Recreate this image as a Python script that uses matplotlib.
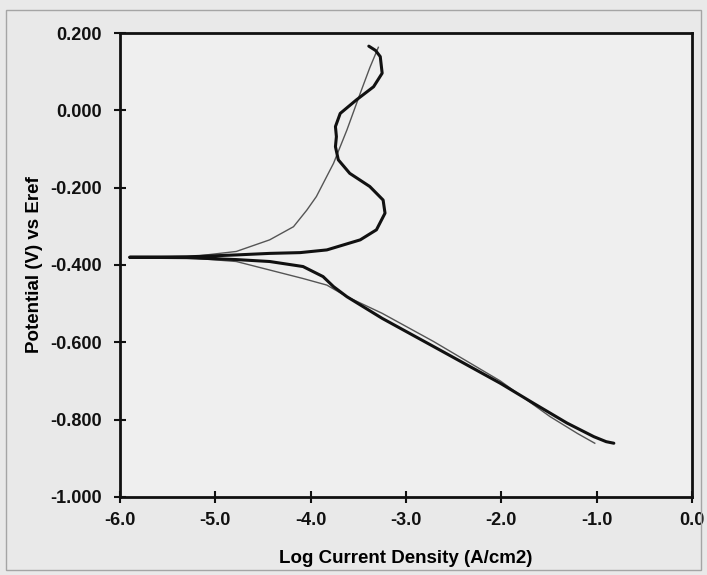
import matplotlib
matplotlib.use("Agg")
import matplotlib.pyplot as plt
from matplotlib.ticker import FormatStrFormatter
from matplotlib.patches import Rectangle

# Thin grey curve (log i, E), from cathodic end through Ecorr to anodic end
thin_x = [-1.02, -1.20, -1.49, -2.01, -2.71, -3.25, -3.62, -3.83, -4.08, -4.43, -4.78, -5.20, -5.90,
          -5.20, -4.78, -4.43, -4.18, -4.04, -3.94, -3.76, -3.62, -3.48, -3.38, -3.29]
thin_y = [-0.861, -0.836, -0.792, -0.700, -0.598, -0.525, -0.482, -0.452, -0.435, -0.413, -0.391, -0.383, -0.380,
          -0.377, -0.365, -0.335, -0.301, -0.258, -0.223, -0.137, -0.051, 0.044, 0.110, 0.163]

# Thick black curve
thick_x = [-0.82, -0.90, -1.03, -1.31, -1.66, -2.01, -2.71, -3.25, -3.62, -3.76, -3.87, -4.08, -4.43, -4.78, -5.30, -5.90,
           -5.30, -4.78, -4.43, -4.11, -3.83, -3.48, -3.31, -3.22, -3.24, -3.38, -3.59, -3.71, -3.74, -3.73, -3.74,
           -3.69, -3.52, -3.34, -3.25, -3.27, -3.32, -3.39]
thick_y = [-0.861, -0.857, -0.844, -0.809, -0.758, -0.706, -0.611, -0.538, -0.482, -0.456, -0.430, -0.404, -0.391, -0.386, -0.381, -0.380,
           -0.379, -0.374, -0.370, -0.368, -0.361, -0.335, -0.309, -0.266, -0.232, -0.197, -0.163, -0.128, -0.094, -0.068, -0.042,
           -0.008, 0.027, 0.061, 0.096, 0.139, 0.155, 0.166]

x_ticks = [-6.0, -5.0, -4.0, -3.0, -2.0, -1.0, 0.0]
y_ticks = [0.2, 0.0, -0.2, -0.4, -0.6, -0.8, -1.0]

plt.rcParams['font.family'] = ['Liberation Sans', 'DejaVu Sans']

fig = plt.figure(figsize=(7.07, 5.75), dpi=100, facecolor='#e9e9e9')
fig.patches.append(Rectangle((0.008, 0.008), 0.984, 0.975, transform=fig.transFigure,
                             fill=False, edgecolor='#a5a5a5', linewidth=1.0))
ax = fig.add_axes([0.1697, 0.1357, 0.8091, 0.8069])
ax.set_facecolor('#efefef')

ax.plot(thin_x, thin_y, color='#555555', linewidth=1.0, solid_joinstyle='round')
ax.plot(thick_x, thick_y, color='#111111', linewidth=2.2, solid_joinstyle='round', solid_capstyle='round')

ax.set_xlim(-6.0, 0.0)
ax.set_ylim(-1.0, 0.2)
ax.set_xticks(x_ticks)
ax.set_yticks(y_ticks)
ax.xaxis.set_major_formatter(FormatStrFormatter('%.1f'))
ax.yaxis.set_major_formatter(FormatStrFormatter('%.3f'))
ax.tick_params(direction='inout', length=8, width=1.5, labelsize=13, colors='#111111')
ax.tick_params(axis='y', pad=9)
ax.tick_params(axis='x', pad=7)
for lab in ax.get_xticklabels() + ax.get_yticklabels():
    lab.set_fontweight('bold')
for s in ax.spines.values():
    s.set_linewidth(2.0)
    s.set_color('#111111')

ax.set_xlabel('Log Current Density (A/cm2)', fontsize=13.5, fontweight='bold', labelpad=15)
ax.set_ylabel('Potential (V) vs Eref', fontsize=13.5, fontweight='bold', labelpad=5)

fig.savefig('out.png', dpi=100, facecolor=fig.get_facecolor())
